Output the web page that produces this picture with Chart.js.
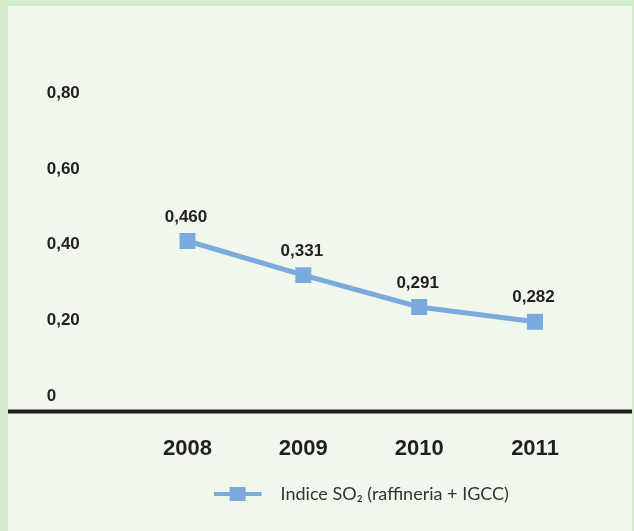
<!DOCTYPE html>
<html>
<head>
<meta charset="utf-8">
<script src="https://cdn.jsdelivr.net/npm/chart.js@4"></script>
<style>
  html, body { margin: 0; padding: 0; }
  body { width: 634px; height: 531px; background: #d3eacd; position: relative; overflow: hidden; }
  #panel { position: absolute; left: 8px; top: 6px; width: 624px; height: 525px; background: #f0f8ee; }
  #chart { position: absolute; left: 0; top: 0; }
</style>
</head>
<body>
<div id="panel"></div>
<canvas id="chart" width="634" height="531"></canvas>
<script>
// dati
const years = ['2008', '2009', '2010', '2011'];
const soIndex = [0.410, 0.320, 0.236, 0.197];
const pointLabels = ['0,460', '0,331', '0,291', '0,282'];
const yTicks = [0, 0.2, 0.4, 0.6, 0.8];
const yTickLabels = ['0', '0,20', '0,40', '0,60', '0,80'];
const seriesName = 'Indice SO₂ (raffineria + IGCC)';

const blue = '#7babdd';
const ink = '#231f20';
const boldFamily = '"Liberation Sans", Arial, sans-serif';
const legendFamily = 'Lato, "Liberation Sans", sans-serif';

// icona legenda: linea con quadrato
const icon = document.createElement('canvas');
icon.width = 58;
icon.height = 16;
const ic = icon.getContext('2d');
ic.fillStyle = blue;
ic.fillRect(0, 6, 48, 4);
ic.fillRect(16, 1, 16, 14);

// linea di base nera su tutta la larghezza del riquadro
const baseLinePlugin = {
    id: 'baseLine',
    beforeDatasetsDraw(chart) {
        const { ctx, chartArea } = chart;
        ctx.save();
        ctx.strokeStyle = ink;
        ctx.lineWidth = 4;
        ctx.beginPath();
        ctx.moveTo(8, chartArea.bottom);
        ctx.lineTo(632, chartArea.bottom);
        ctx.stroke();
        ctx.restore();
    }
};

// etichette sopra i punti
const pointLabelPlugin = {
    id: 'pointLabels',
    afterDatasetsDraw(chart) {
        const ctx = chart.ctx;
        const meta = chart.getDatasetMeta(0);
        ctx.save();
        ctx.font = 'bold 17px ' + boldFamily;
        ctx.fillStyle = ink;
        ctx.textAlign = 'center';
        ctx.textBaseline = 'middle';
        meta.data.forEach((pt, i) => {
            ctx.fillText(pointLabels[i], pt.x - 1.5, pt.y - 24);
        });
        ctx.restore();
    }
};

new Chart(document.getElementById('chart'), {
    type: 'line',
    data: {
        labels: years,
        datasets: [{
            label: seriesName,
            data: soIndex,
            borderColor: blue,
            backgroundColor: blue,
            borderWidth: 5,
            tension: 0,
            fill: false,
            pointStyle: 'rect',
            pointRadius: 11.3,
            pointBorderWidth: 0,
            pointBackgroundColor: blue
        }]
    },
    options: {
        responsive: false,
        animation: false,
        layout: { padding: { left: 46.7, right: 99, top: 93.2, bottom: 18 } },
        plugins: {
            legend: {
                position: 'bottom',
                fullSize: false,
                labels: {
                    usePointStyle: true,
                    pointStyle: icon,
                    pointStyleWidth: 58,
                    boxHeight: 20,
                    padding: 10,
                    color: '#333',
                    font: { family: legendFamily, size: 18, weight: 'normal' }
                }
            },
            tooltip: { enabled: false }
        },
        scales: {
            x: {
                offset: false,
                grid: { display: false },
                border: { display: false },
                ticks: {
                    color: ink,
                    font: { family: boldFamily, size: 22, weight: 'bold' },
                    padding: 16.6,
                    maxRotation: 0,
                    autoSkip: false
                },
                afterFit(scale) { scale.height = 63.5; }
            },
            y: {
                min: -0.0398,
                max: 0.8,
                grid: { display: false },
                border: { display: false },
                ticks: {
                    stepSize: 0.2,
                    includeBounds: false,
                    crossAlign: 'far',
                    color: ink,
                    font: { family: boldFamily, size: 17, weight: 'bold' },
                    callback: v => {
                        const i = yTicks.findIndex(t => Math.abs(t - v) < 1e-6);
                        return i === -1 ? '' : yTickLabels[i];
                    }
                },
                afterFit(scale) { scale.width = 140.8; }
            }
        }
    },
    plugins: [baseLinePlugin, pointLabelPlugin]
});
</script>
</body>
</html>
